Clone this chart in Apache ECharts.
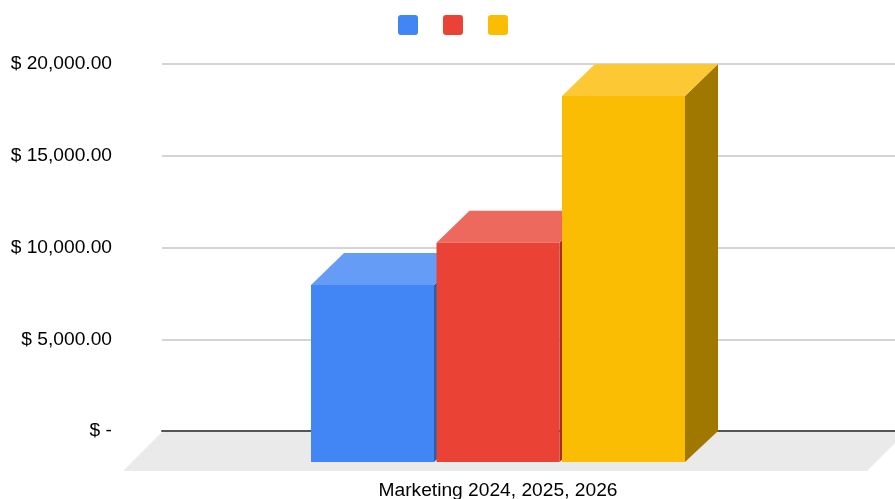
<!DOCTYPE html>
<html>
<head>
<meta charset="utf-8">
<style>html,body{margin:0;padding:0;background:#fff}#chart{width:895px;height:499px}</style>
<script src="https://cdn.jsdelivr.net/npm/echarts@6/dist/echarts.min.js"></script>
</head>
<body>
<div id="chart"></div>
<script>
// Marketing spend by year, drawn as extruded columns on a shaded floor.
const categories = ['Marketing 2024, 2025, 2026'];
const seriesNames = ['2024', '2025', '2026'];
const spend2024 = [9700];
const spend2025 = [12000];
const spend2026 = [20000];
const yTicks = { min: 0, max: 20000, step: 5000 };

const frontColors = ['#4285F4', '#EA4335', '#FBBC04'];
const topColors = ['#659DF6', '#EE695D', '#FCC934'];
const sideColors = ['#2E5DAB', '#A32F25', '#A07800'];

const FONT = 'Liberation Sans, Arial, sans-serif';
const BAR_WIDTH = 123;
const BAR_PITCH = 125.5;
const DEPTH_X = 33;
const DEPTH_Y = 32;
const GROUP_SHIFT = -3;
const FLOOR_DEPTH = 39;
const LEGEND_ICON = 'path://M3,0H17Q20,0 20,3V17Q20,20 17,20H3Q0,20 0,17V3Q0,0 3,0Z';

const chart = echarts.init(document.getElementById('chart'), null, { renderer: 'canvas' });

// One extruded column: coordinates from the axes give the back plane, the front face sits forward of it.
function columnRenderer(slot) {
  return function (params, api) {
    const top = api.coord([api.value(0), api.value(1)]);
    const base = api.coord([api.value(0), 0]);
    const bl = top[0] + GROUP_SHIFT + (slot - 1) * BAR_PITCH - BAR_WIDTH / 2;
    const br = bl + BAR_WIDTH;
    const fl = bl - DEPTH_X;
    const fr = br - DEPTH_X;
    const ft = top[1] + DEPTH_Y;
    const fb = base[1] + DEPTH_Y - 1;
    const face = (points, fill) => ({ type: 'polygon', shape: { points }, style: { fill } });
    return {
      type: 'group',
      children: [
        face([[fr, ft], [br, top[1]], [br, base[1]], [fr, fb]], sideColors[slot]),
        face([[fl, ft], [bl, top[1]], [br, top[1]], [fr, ft]], topColors[slot]),
        face([[fl, ft], [fr, ft], [fr, fb], [fl, fb]], frontColors[slot])
      ]
    };
  };
}

function floorRenderer(params, api) {
  const cs = params.coordSys;
  const y = api.coord([api.value(0), 0])[1] + 1;
  return {
    type: 'polygon',
    shape: {
      points: [
        [cs.x, y],
        [cs.x + cs.width, y],
        [cs.x + cs.width - FLOOR_DEPTH, y + FLOOR_DEPTH],
        [cs.x - FLOOR_DEPTH, y + FLOOR_DEPTH]
      ]
    },
    style: { fill: '#EAEAEA' }
  };
}

function columnSeries(slot, values) {
  return {
    type: 'custom',
    name: seriesNames[slot],
    z: 3,
    clip: false,
    itemStyle: { color: frontColors[slot] },
    renderItem: columnRenderer(slot),
    encode: { x: 0, y: 1 },
    data: categories.map((c, i) => [i, values[i]])
  };
}

chart.setOption({
  animation: false,
  backgroundColor: '#fff',
  legend: {
    data: seriesNames,
    left: 398,
    top: 15,
    padding: 0,
    itemWidth: 20,
    itemHeight: 20,
    itemGap: 25,
    icon: LEGEND_ICON,
    formatter: () => ''
  },
  grid: { left: 162, width: 744, top: 64, bottom: 68, outerBoundsMode: 'none' },
  xAxis: {
    type: 'category',
    data: categories,
    axisTick: { show: false },
    axisLine: { show: true, lineStyle: { color: '#555', width: 2 } },
    axisLabel: {
      color: '#000',
      fontFamily: FONT,
      fontSize: 19.2,
      margin: 50,
      padding: [0, 72, 0, 0]
    }
  },
  yAxis: {
    type: 'value',
    min: yTicks.min,
    max: yTicks.max,
    interval: yTicks.step,
    axisLine: { show: false },
    axisTick: { show: false },
    splitLine: { lineStyle: { color: '#C6C6C6', width: 1.5 } },
    axisLabel: {
      color: '#000',
      fontFamily: FONT,
      fontSize: 19.2,
      margin: 50,
      formatter: (v) => v === 0 ? '$ -' : '$ ' + v.toLocaleString('en-US', { minimumFractionDigits: 2 })
    }
  },
  series: [
    {
      type: 'custom',
      name: 'floor',
      z: 1,
      clip: false,
      silent: true,
      renderItem: floorRenderer,
      encode: { x: 0, y: 1 },
      data: [[0, 0]]
    },
    columnSeries(0, spend2024),
    columnSeries(1, spend2025),
    columnSeries(2, spend2026)
  ]
});
</script>
</body>
</html>
